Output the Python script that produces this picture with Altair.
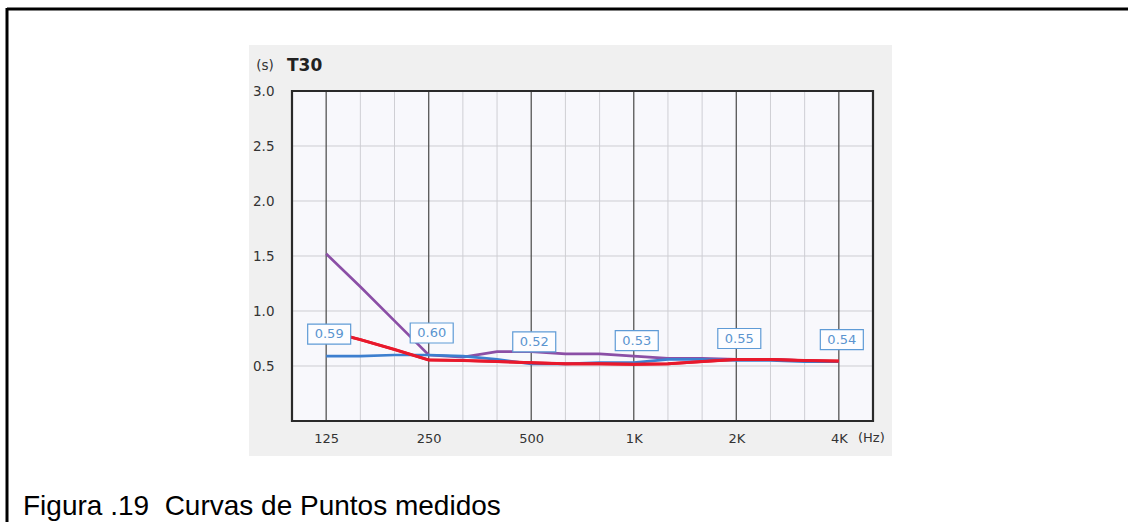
import altair as alt
import pandas as pd

# third-octave band centres drawn on the x axis (index 0 = 100 Hz, 17 = 5 kHz)
band_index = list(range(1, 17))
band_names = ["125", "160", "200", "250", "315", "400", "500", "630", "800",
              "1K", "1.25K", "1.6K", "2K", "2.5K", "3.15K", "4K"]

# T30 per band (s)
t30_blue = [0.59, 0.59, 0.60, 0.60, 0.59, 0.56, 0.52, 0.52, 0.53, 0.53,
            0.56, 0.56, 0.55, 0.55, 0.54, 0.54]
t30_purple = [1.52, 1.22, 0.91, 0.60, 0.58, 0.63, 0.63, 0.61, 0.61, 0.59,
              0.57, 0.57, 0.56, 0.56, 0.55, 0.54]
t30_red = [0.82, 0.74, 0.65, 0.555, 0.55, 0.54, 0.53, 0.52, 0.52, 0.515,
           0.52, 0.54, 0.56, 0.56, 0.55, 0.545]

# octave values written in the boxes (blue curve)
octave_index = [1, 4, 7, 10, 13, 16]
octave_values = [0.59, 0.60, 0.52, 0.53, 0.55, 0.54]

# axis ticks
x_tick_values = [1, 4, 7, 10, 13, 16]
x_tick_labels = ["125", "250", "500", "1K", "2K", "4K"]
y_tick_values = [0.5, 1.0, 1.5, 2.0, 2.5, 3.0]
y_grid_values = [0.5, 1.0, 1.5, 2.0, 2.5]

series_names = ["purple", "blue", "red"]
series_colors = ["#8b4fa6", "#3d7fcf", "#e8192c"]

W, H = 581, 330
FONT = "DejaVu Sans"

rows = []
for name, vals in zip(series_names, [t30_purple, t30_blue, t30_red]):
    for i, v in zip(band_index, vals):
        rows.append({"band": i, "t30": v, "series": name})
lines_df = pd.DataFrame(rows)

grid_v = pd.DataFrame({"band": band_index,
                       "major": [i in octave_index for i in band_index]})
grid_h = pd.DataFrame({"t30": y_grid_values})
boxes_df = pd.DataFrame({"band": octave_index, "t30": octave_values,
                         "txt": [f"{v:.2f}" for v in octave_values]})

label_expr = "''"
for v, lab in zip(reversed(x_tick_values), reversed(x_tick_labels)):
    label_expr = f"datum.value == {v} ? '{lab}' : ({label_expr})"

x_scale = alt.Scale(domain=[0, 17], nice=False, zero=False)
y_scale = alt.Scale(domain=[0, 3], nice=False, zero=False)

x_axis = alt.Axis(values=x_tick_values, labelExpr=label_expr, title=None,
                  grid=False, ticks=False, domain=False, labelPadding=11,
                  labelOverlap=False, labelFont=FONT, labelFontSize=13,
                  labelColor="#333333", zindex=2)
y_axis = alt.Axis(values=y_tick_values, format=".1f", title=None, grid=False,
                  ticks=False, domain=False, labelPadding=18, labelOverlap=False,
                  labelFont=FONT, labelFontSize=13.5, labelColor="#333333",
                  zindex=2)

X = alt.X("band:Q", scale=x_scale, axis=x_axis)
Y = alt.Y("t30:Q", scale=y_scale, axis=y_axis)

base = alt.Chart(pd.DataFrame({"k": [0]}))

# grey panel behind the plot
panel = base.mark_rect(fill="#f0f0f0").encode(
    x=alt.value(-43), x2=alt.value(600), y=alt.value(-46), y2=alt.value(365))
plot_bg = base.mark_rect(fill="#f8f8fc").encode(
    x=alt.value(0), x2=alt.value(W), y=alt.value(0), y2=alt.value(H))

vgrid_minor = alt.Chart(grid_v).transform_filter("!datum.major").mark_rule(
    color="#cfcfd4", strokeWidth=1).encode(x=X)
vgrid_major = alt.Chart(grid_v).transform_filter("datum.major").mark_rule(
    color="#555555", strokeWidth=1.3).encode(x=X)
hgrid = alt.Chart(grid_h).mark_rule(color="#cdcdd2", strokeWidth=1).encode(y=Y)

curves = alt.Chart(lines_df).mark_line(strokeWidth=2.7).encode(
    x=X, y=Y,
    color=alt.Color("series:N", scale=alt.Scale(domain=series_names, range=series_colors),
                    legend=None),
    detail="series:N",
    order="band:Q",
)
red_top = alt.Chart(lines_df).transform_filter("datum.series == 'red'").mark_line(
    strokeWidth=3, color="#e8192c").encode(x=X, y=Y, order="band:Q")

boxes = alt.Chart(boxes_df).mark_rect(
    width=43, height=20, fill="#fdfdff", stroke="#5f9bd6", strokeWidth=1.2,
    xOffset=3, yOffset=-22).encode(x=X, y=Y)
box_text = alt.Chart(boxes_df).mark_text(
    font=FONT, fontSize=13, color="#5a94cf", xOffset=3, yOffset=-22,
    align="center", baseline="middle").encode(x=X, y=Y, text="txt:N")

border = base.mark_rect(fill=None, stroke="#2a2a2a", strokeWidth=2.2).encode(
    x=alt.value(0), x2=alt.value(W), y=alt.value(0), y2=alt.value(H))

# unit captions on the axes
unit_txt = base.mark_text(text="(s)", font=FONT, fontSize=13.5, color="#333333",
                          align="center", baseline="middle").encode(
    x=alt.value(-27), y=alt.value(-25))
title_txt = base.mark_text(text="T30", font=FONT, fontSize=17, fontWeight="bold",
                           color="#222222", align="left", baseline="middle").encode(
    x=alt.value(-5), y=alt.value(-25))
hz_txt = base.mark_text(text="(Hz)", font=FONT, fontSize=13, color="#333333",
                        align="left", baseline="top").encode(
    x=alt.value(W - 15), y=alt.value(H + 11))

# figure frame and caption
frame_top = base.mark_rule(color="#000000", strokeWidth=3).encode(
    x=alt.value(-285), x2=alt.value(840), y=alt.value(-82))
frame_left = base.mark_rule(color="#000000", strokeWidth=3).encode(
    x=alt.value(-285), y=alt.value(-83), y2=alt.value(435))
caption = base.mark_text(text="Figura .19\u00a0 Curvas de Puntos medidos",
                         font="Liberation Sans", fontSize=28, color="#000000",
                         align="left", baseline="alphabetic").encode(
    x=alt.value(-269), y=alt.value(424))

chart = alt.layer(
    panel, plot_bg, vgrid_minor, hgrid, vgrid_major, curves, red_top,
    boxes, box_text, border, unit_txt, title_txt, hz_txt,
    frame_top, frame_left, caption,
).properties(
    width=W, height=H,
    autosize=alt.AutoSizeParams(type="none"),
    padding={"left": 292, "top": 91, "right": 255, "bottom": 101},
    background="#ffffff",
).configure_view(stroke=None, fill=None)

chart.save("out.html", embed_options={"renderer": "svg", "actions": False})
